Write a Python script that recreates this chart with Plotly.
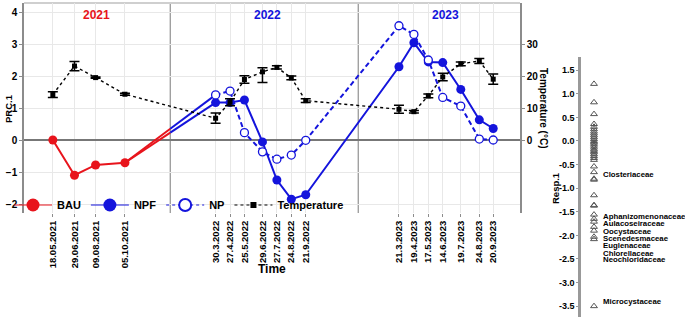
import plotly.graph_objects as go
import pandas as pd

W, H = 685, 319
SANS = "Liberation Sans, Arial, sans-serif"
RED = "#e8141c"
BLUE = "#1414dc"
GRID = "#e8e8e8"
AXGRAY = "#8c8c8c"

# ---------------- data ----------------
dates_2021 = ["2021-05-18", "2021-06-29", "2021-08-09", "2021-10-05"]
dates_2022_2023 = ["2022-03-30", "2022-04-27", "2022-05-25", "2022-06-29", "2022-07-27",
                   "2022-08-24", "2022-09-21", "2023-03-21", "2023-04-19", "2023-05-17",
                   "2023-06-14", "2023-07-19", "2023-08-24", "2023-09-20"]
tick_labels = ["18.05.2021", "29.06.2021", "09.08.2021", "05.10.2021",
               "30.3.2022", "27.4.2022", "25.5.2022", "29.6.2022", "27.7.2022",
               "24.8.2022", "21.9.2022", "21.3.2023", "19.4.2023", "17.5.2023",
               "14.6.2023", "19.7.2023", "24.8.2023", "20.9.2023"]

bau = [0.0, -1.10, -0.78, -0.71]
npf = [1.17, 1.17, 1.25, -0.06, -1.25, -1.85, -1.71, 2.29, 3.04, 2.44, 2.42, 1.58, 0.63, 0.36]
np_vals = [1.41, 1.53, 0.23, -0.37, -0.60, -0.47, -0.01, 3.57, 3.30, 2.50, 1.33, 1.06, 0.03, 0.00]

temperature = [14.2, 23.1, 19.5, 14.3, 6.8, 11.8, 18.9, 21.3, 22.7, 19.4, 12.3,
               9.6, 8.85, 13.8, 19.7, 23.8, 24.7, 19.0]
temp_err_plus = [0.9, 1.45, 0.2, 0.3, 1.6, 1.1, 1.15, 1.3, 0.5, 0.6, 0.6,
                 1.25, 0.4, 0.6, 1.15, 0.6, 0.8, 1.6]
temp_err_minus = [0.9, 1.45, 0.2, 0.3, 1.6, 1.1, 1.15, 3.3, 0.5, 0.6, 0.6,
                  1.25, 0.4, 0.6, 1.15, 0.6, 0.8, 1.6]

year_labels = ["2021", "2022", "2023"]
year_colors = [RED, BLUE, BLUE]

labeled_families = ["Closteriaceae", "Aphanizomenonaceae", "Aulacoseiraceae", "Oocystaceae",
                    "Scenedesmaceae", "Euglenaceae", "Chlorellaceae", "Neochloridaceae",
                    "Microcystaceae"]
labeled_scores = [-0.80, -1.56, -1.65, -1.71, -1.82, -1.90, -2.03, -2.08, -3.50]
other_scores = [1.21, 0.82, 0.57, 0.36, 0.30, 0.25, 0.20, 0.16, 0.12, 0.08, 0.04, 0.0,
                -0.03, -0.06, -0.10, -0.14, -0.18, -0.21, -0.24, -0.28, -0.32, -0.36,
                -0.40, -0.54, -0.66, -0.82, -1.15, -1.36, -1.37]
resp_ticks = [1.5, 1.0, 0.5, 0.0, -0.5, -1.0, -1.5, -2.0, -2.5, -3.0, -3.5]

all_dates = dates_2021 + dates_2022_2023

# ---------------- layout helpers (pixel -> paper) ----------------
def fx(p):
    return p / W

def fy(p):
    return 1 - p / H

fig = go.Figure()

# bridge lines between 2021 BAU and 2022 treatments (red before year change, blue after)
boundary = pd.Timestamp("2022-01-01")
t0 = pd.Timestamp(dates_2021[-1])
t1 = pd.Timestamp(dates_2022_2023[0])
for target in (npf[0], np_vals[0]):
    frac = (boundary - t0) / (t1 - t0)
    yb = bau[-1] + frac * (target - bau[-1])
    fig.add_trace(go.Scatter(x=[t0, boundary], y=[bau[-1], yb], mode="lines",
                             line=dict(color=RED, width=2), showlegend=False, hoverinfo="skip"))
    fig.add_trace(go.Scatter(x=[boundary, t1], y=[yb, target], mode="lines",
                             line=dict(color=BLUE, width=2), showlegend=False, hoverinfo="skip"))

fig.add_trace(go.Scatter(x=dates_2021, y=bau, name="BAU", mode="lines+markers",
                         line=dict(color=RED, width=2), showlegend=False,
                         marker=dict(color=RED, size=9)))
fig.add_trace(go.Scatter(x=dates_2022_2023, y=npf, name="NPF", mode="lines+markers",
                         line=dict(color=BLUE, width=2), showlegend=False,
                         marker=dict(color=BLUE, size=9)))
fig.add_trace(go.Scatter(x=dates_2022_2023, y=np_vals, name="NP", mode="lines+markers",
                         line=dict(color=BLUE, width=2, dash="5px,3px"), showlegend=False,
                         marker=dict(color="white", size=8, symbol="circle",
                                     line=dict(color=BLUE, width=1.3))))
fig.add_trace(go.Scatter(x=all_dates, y=temperature, name="Temperature", mode="lines+markers",
                         yaxis="y2", showlegend=False,
                         line=dict(color="black", width=1.4, dash="dot"),
                         marker=dict(color="black", size=5, symbol="square"),
                         error_y=dict(type="data", array=temp_err_plus, arrayminus=temp_err_minus,
                                      symmetric=False, color="black", thickness=1.5, width=5)))

# legend-only entries (key glyphs styled like the reference legend)
legend_keys = [
    ("BAU", dict(color=RED, width=1), dict(color=RED, size=13, symbol="circle")),
    ("NPF", dict(color=BLUE, width=1), dict(color=BLUE, size=13, symbol="circle")),
    ("NP", dict(color=BLUE, width=1, dash="dot"),
     dict(color="white", size=12, symbol="circle", line=dict(color=BLUE, width=2))),
    ("Temperature", dict(color="black", width=1, dash="dot"),
     dict(color="black", size=6, symbol="square")),
]
for name, ln, mk in legend_keys:
    fig.add_trace(go.Scatter(x=[None], y=[None], name=name, mode="lines+markers",
                             line=ln, marker=mk, showlegend=True, hoverinfo="skip"))

# species panel
fig.add_trace(go.Scatter(x=[0] * len(other_scores), y=other_scores, mode="markers",
                         xaxis="x2", yaxis="y3", showlegend=False,
                         marker=dict(symbol="triangle-up-open", size=6, color="#555",
                                     line=dict(width=1))))
fig.add_trace(go.Scatter(x=[0] * len(labeled_scores), y=labeled_scores, mode="markers",
                         xaxis="x2", yaxis="y3", showlegend=False,
                         marker=dict(symbol="triangle-up-open", size=6, color="#555",
                                     line=dict(width=1))))

# ---------------- layout ----------------
x_left = pd.Timestamp("2021-03-23")
x_right = pd.Timestamp("2023-11-11")

fig.update_layout(
    width=W, height=H, autosize=False,
    margin=dict(l=0, r=0, t=0, b=0),
    paper_bgcolor="white", plot_bgcolor="white",
    font=dict(family=SANS, color="black"),
    showlegend=True,
    legend=dict(orientation="h", x=fx(9), y=fy(205), xanchor="left", yanchor="middle",
                bgcolor="rgba(0,0,0,0)", font=dict(family=SANS, size=11, weight="bold"),
                itemsizing="trace", itemwidth=38),
    xaxis=dict(domain=[fx(24), fx(520)], type="date", range=[x_left, x_right],
               tickvals=all_dates, ticktext=tick_labels, tickangle=-90,
               tickfont=dict(family=SANS, size=9.5, weight="bold"),
               showgrid=True, gridcolor=GRID, gridwidth=1,
               ticks="outside", ticklen=3, tickcolor=AXGRAY,
               showline=False, zeroline=False, anchor="y"),
    yaxis=dict(domain=[fy(213), fy(3)], range=[-73 / 32, 137 / 32],
               tickvals=[-2, -1, 0, 1, 2, 3, 4],
               tickfont=dict(family=SANS, size=10, weight="bold"),
               showgrid=True, gridcolor=GRID, gridwidth=1,
               zeroline=True, zerolinecolor="#777", zerolinewidth=1.5,
               showline=True, linecolor=AXGRAY, linewidth=1.5,
               ticks="outside", ticklen=3, tickcolor=AXGRAY, anchor="x"),
    yaxis2=dict(overlaying="y", side="right", anchor="x",
                range=[-730 / 32, 1370 / 32], tickvals=[0, 10, 20, 30],
                tickfont=dict(family=SANS, size=10, weight="bold"),
                showgrid=False, zeroline=False,
                showline=True, linecolor=AXGRAY, linewidth=1.5,
                ticks="outside", ticklen=3, tickcolor=AXGRAY),
    xaxis2=dict(domain=[fx(581), 1.0], range=[-0.125, 0.875], anchor="y3",
                visible=False),
    yaxis3=dict(domain=[fy(317), fy(57)], range=[-3.73, 1.78], anchor="x2",
                tickvals=resp_ticks, ticktext=[f"{v:.1f}" for v in resp_ticks],
                tickfont=dict(family=SANS, size=9, weight="bold"),
                showgrid=False, zeroline=False,
                showline=True, linecolor="#999", linewidth=2.5,
                ticks="outside", ticklen=2, tickcolor="#999"),
)

# year separators and top border
for yr in ["2022-01-01", "2023-01-01"]:
    fig.add_shape(type="line", xref="x", yref="y domain", x0=yr, x1=yr, y0=0, y1=1,
                  line=dict(color="#999", width=1.3), layer="below")
fig.add_shape(type="line", xref="x domain", yref="y domain", x0=0, x1=1, y0=1, y1=1,
              line=dict(color="#cfcfcf", width=2), layer="below")

# year labels
for lab, col, px in zip(year_labels, year_colors, [96, 267, 445]):
    fig.add_annotation(text=lab, xref="paper", yref="paper", x=fx(px), y=fy(15),
                       xanchor="center", yanchor="middle", showarrow=False,
                       font=dict(family=SANS, size=12, color=col, weight="bold"))

# axis titles
fig.add_annotation(text="PRC.1", xref="paper", yref="paper", x=fx(8), y=fy(109), textangle=-90,
                   xanchor="center", yanchor="middle", showarrow=False,
                   font=dict(family=SANS, size=9.5, weight="bold"))
fig.add_annotation(text="Time", xref="paper", yref="paper", x=fx(272), y=fy(269),
                   xanchor="center", yanchor="middle", showarrow=False,
                   font=dict(family=SANS, size=12, weight="bold"))
fig.add_annotation(text="Temperature (°C)", xref="paper", yref="paper", x=fx(544), y=fy(108),
                   textangle=90, xanchor="center", yanchor="middle", showarrow=False,
                   font=dict(family=SANS, size=10, weight="bold"))
fig.add_annotation(text="Resp.1", xref="paper", yref="paper", x=fx(555), y=fy(188),
                   textangle=-90, xanchor="center", yanchor="middle", showarrow=False,
                   font=dict(family=SANS, size=9.5, weight="bold"))

# species labels (stacked to avoid overlap)
label_y = [-0.72, -1.60, -1.74, -1.92, -2.07, -2.22, -2.38, -2.52, -3.40]
for name, ly in zip(labeled_families, label_y):
    fig.add_annotation(text=name, xref="x2", yref="y3", x=0.07, y=ly,
                       xanchor="left", yanchor="middle",
                       showarrow=False, font=dict(family=SANS, size=7.8, weight="bold"))

fig.write_html("out.html", config={"displayModeBar": False},
               post_script="document.body.style.margin='0';document.body.style.padding='0';")
